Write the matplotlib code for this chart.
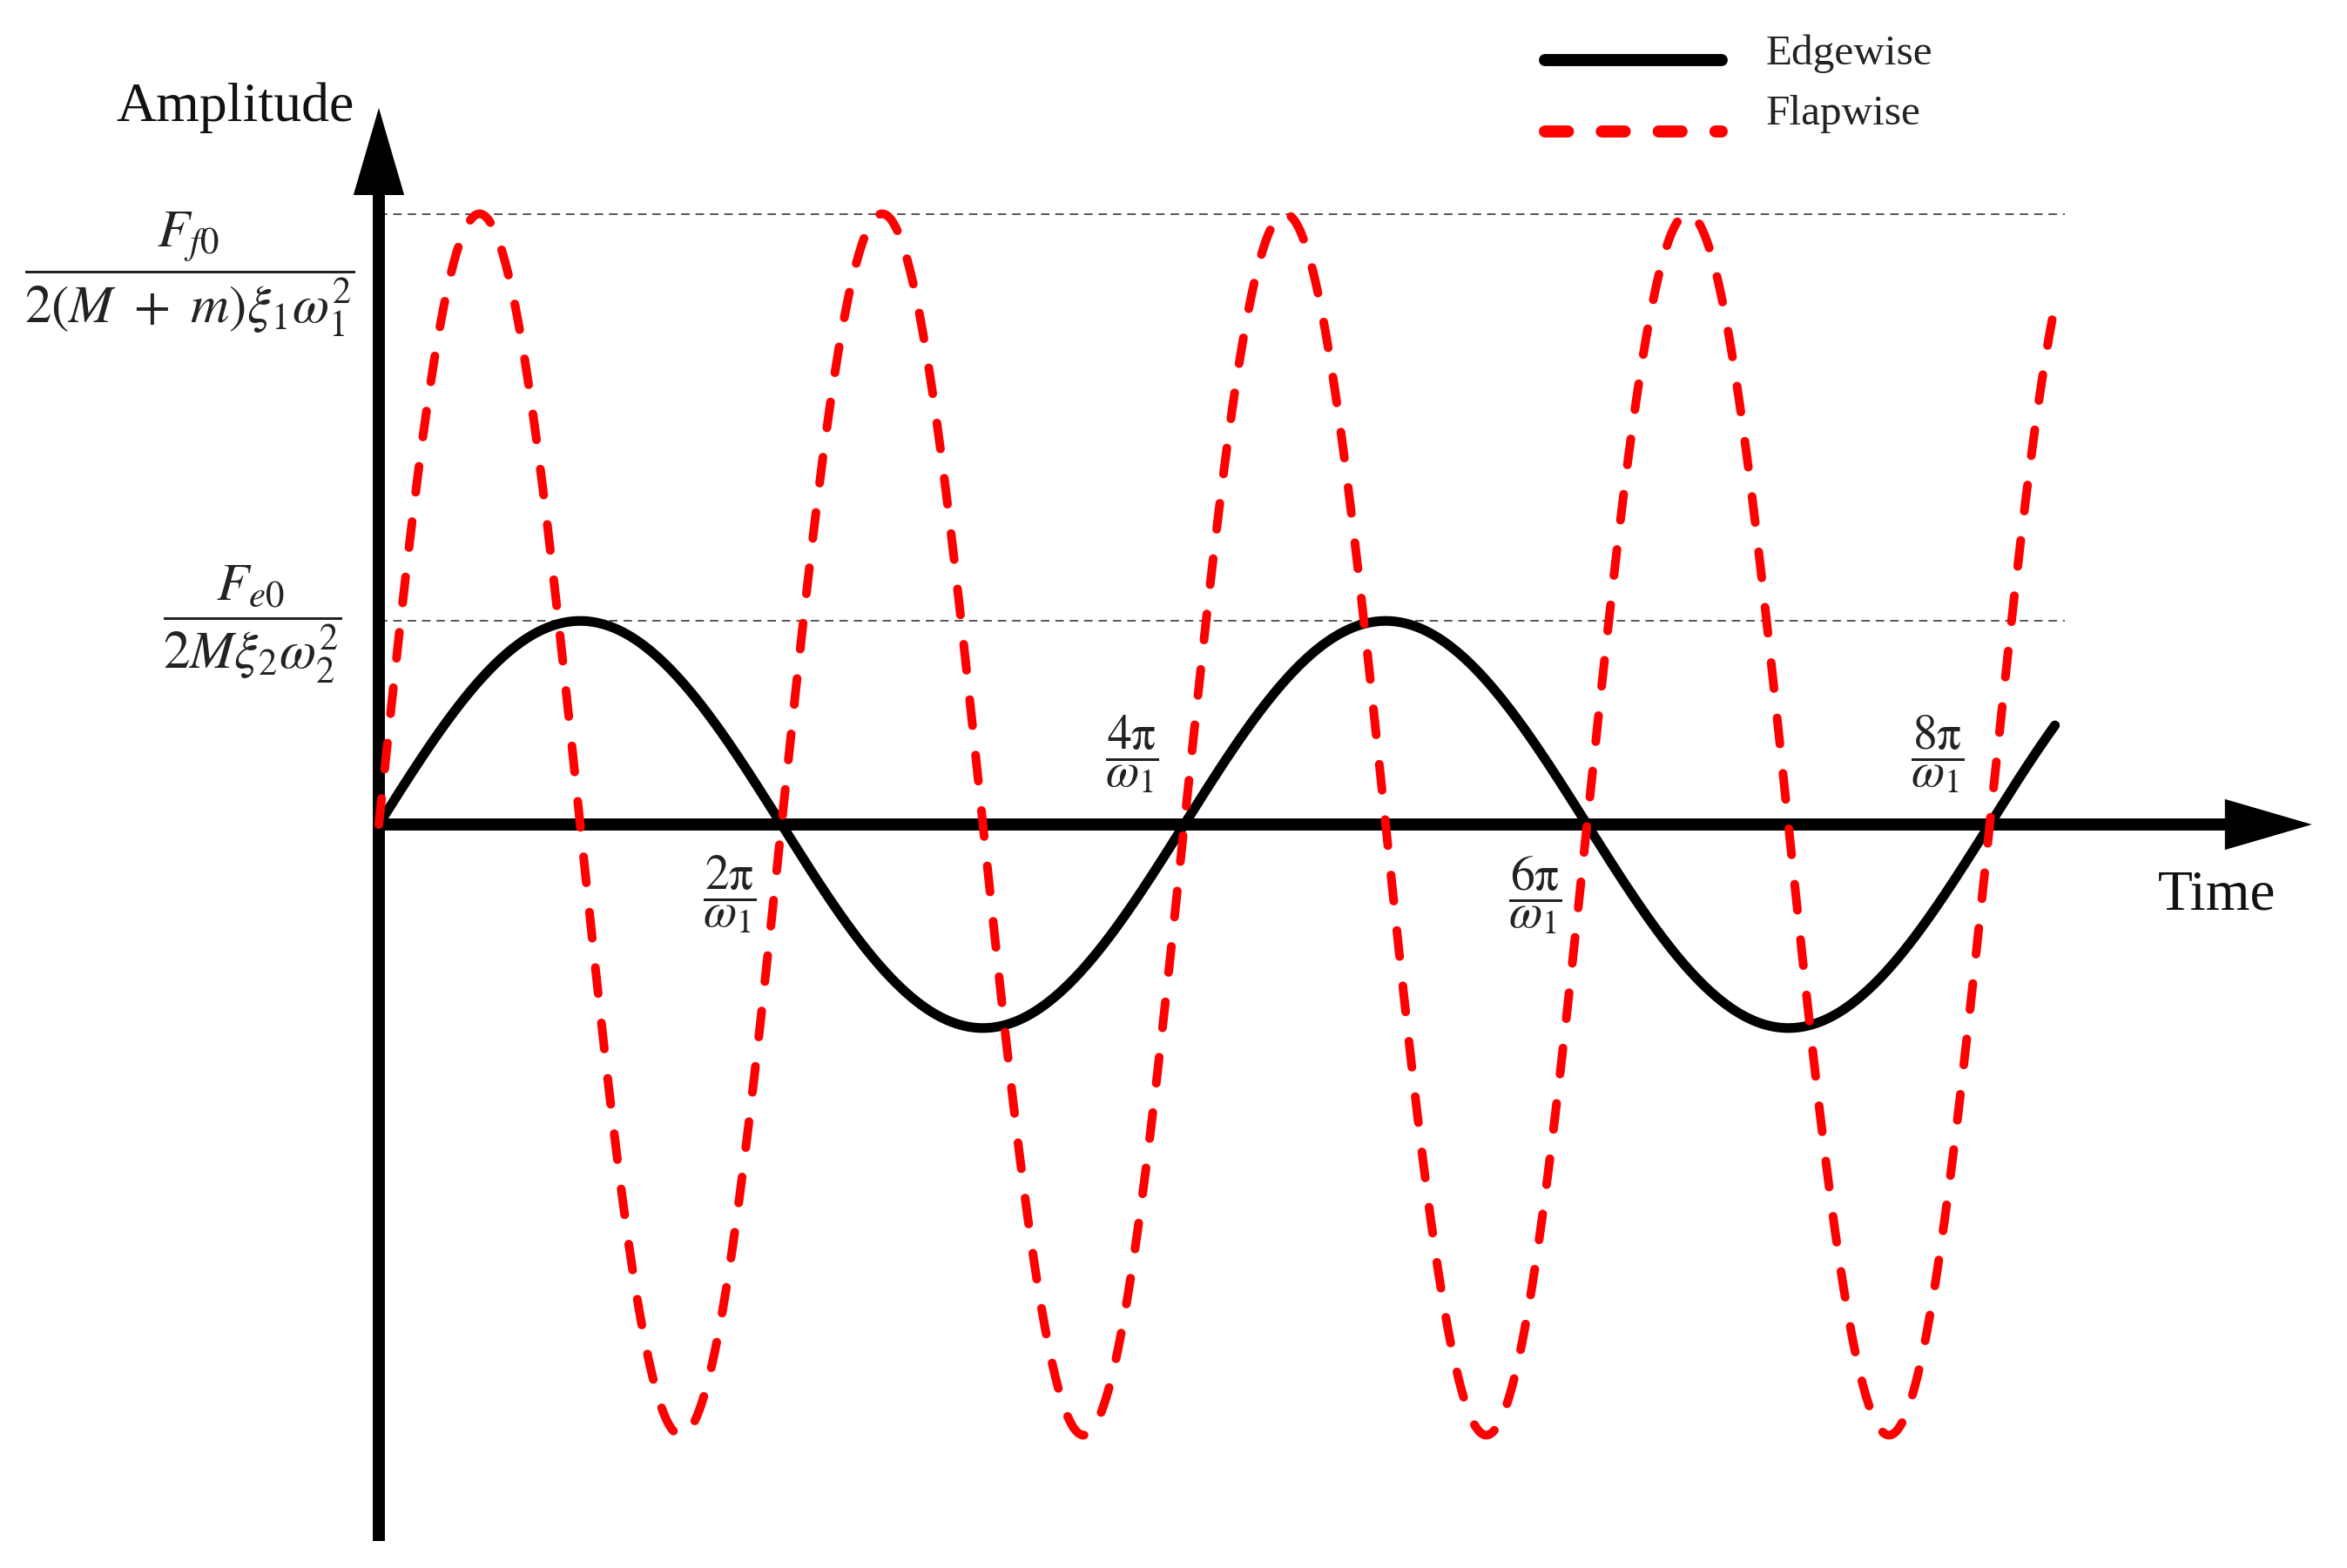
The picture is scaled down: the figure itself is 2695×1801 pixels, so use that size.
import numpy as np
import matplotlib
matplotlib.use("Agg")
import matplotlib.pyplot as plt
from matplotlib.lines import Line2D

plt.rcParams['font.family'] = ['Liberation Serif', 'DejaVu Serif']
plt.rcParams['mathtext.fontset'] = 'stix'

# ---- chart values (schematic, omega_1 = 1) ----
series_names = ["Edgewise", "Flapwise"]
edge_amplitude = 1.0          # F_e0 / (2 M xi2 w2^2)
flap_amplitude = 3.0          # F_f0 / (2(M+m) xi1 w1^2)
edge_freq = 0.5               # angular frequency relative to omega_1
flap_freq = 1.0
t_end = 26.15                 # end of drawn curves
tick_multiples = [2, 4, 6, 8]  # multiples of pi / omega_1
tick_labels = [r"$\dfrac{2\mathrm{\pi}}{\omega_1}$", r"$\dfrac{4\mathrm{\pi}}{\omega_1}$",
               r"$\dfrac{6\mathrm{\pi}}{\omega_1}$", r"$\dfrac{8\mathrm{\pi}}{\omega_1}$"]
tick_side = ["below", "above", "below", "above"]
amp_labels = [r"$\dfrac{F_{f0}}{2(M\ +\ m)\xi_1\omega_1^2}$", r"$\dfrac{F_{e0}}{2M\xi_2\omega_2^2}$"]

W, H = 2695, 1801
fig = plt.figure(figsize=(W / 100, H / 100), dpi=100)
ax = fig.add_axes([0, 0, 1, 1])
ax.axis('off')
# pixel mapping: origin at (435, 947); 73.6 px per unit t, 233.8 px per unit amplitude
px_t, px_y, x0, y0 = 73.6, 233.8, 435, 947
ax.set_xlim(-x0 / px_t, (W - x0) / px_t)
ax.set_ylim(-(H - y0) / px_y, y0 / px_y)

t = np.linspace(0, t_end, 2000)
edge = edge_amplitude * np.sin(edge_freq * t)
flap = flap_amplitude * np.sin(flap_freq * t)

# reference dashed lines
for a in (flap_amplitude, edge_amplitude):
    ax.plot([0, t_end + 0.15], [a, a], color='#555555', lw=1.4, dashes=(5, 3.5), zorder=1)

# axes arrows
axis_x_end = 30.16
axis_y_top = 3.52
axis_y_bot = -3.52
ax.plot([0, axis_x_end - 0.8], [0, 0], color='k', lw=10, solid_capstyle='butt', zorder=3)
ax.plot([0, 0], [axis_y_bot, axis_y_top - 0.25], color='k', lw=10, solid_capstyle='butt', zorder=3)
arrow_kw = dict(arrowstyle='-|>,head_length=0.72,head_width=0.21', lw=0, color='k',
                mutation_scale=100, shrinkA=0, shrinkB=0)
ax.annotate('', xy=(axis_x_end, 0), xytext=(axis_x_end - 2, 0), arrowprops=arrow_kw, zorder=4)
ax.annotate('', xy=(0, axis_y_top), xytext=(0, axis_y_top - 1), arrowprops=arrow_kw, zorder=4)

# curves
ax.plot(t, edge, color='k', lw=8, solid_capstyle='round', zorder=5, label=series_names[0])
ax.plot(t, flap, color='#ff0000', lw=7.2, dashes=(3.0, 3.4), dash_capstyle='round', zorder=6,
        label=series_names[1])

# tick labels
for m, lab, side in zip(tick_multiples, tick_labels, tick_side):
    dy = -58 if side == "below" else 58
    ax.annotate(lab, xy=(m * np.pi, 0), xytext=(-43, dy), textcoords='offset points',
                ha='center', va='center', fontsize=40, color='#222222')

# amplitude labels
ax.text(-0.38, 2.70, amp_labels[0], ha='right', va='center', fontsize=44, color='#222222')
ax.text(-0.58, 0.98, amp_labels[1], ha='right', va='center', fontsize=44, color='#222222')

ax.text(-0.39, 3.52, "Amplitude", ha='right', va='center', fontsize=46, color='#111111')
ax.text(28.68, -0.35, "Time", ha='center', va='center', fontsize=47, color='#111111')

# legend (manual)
fig.add_artist(Line2D([0.6583, 0.7336], [0.9617, 0.9617], color='k', lw=10,
                      solid_capstyle='round', transform=fig.transFigure))
fig.add_artist(Line2D([0.6583, 0.7336], [0.9162, 0.9162], color='#ff0000', lw=10,
                      dashes=(1.9, 2.8), dash_capstyle='round', transform=fig.transFigure))
fig.text(0.7525, 0.9656, series_names[0], ha='left', va='center', fontsize=35.5, color='#222222')
fig.text(0.7525, 0.9273, series_names[1], ha='left', va='center', fontsize=35.5, color='#222222')

fig.savefig("out.png", dpi=100, facecolor='white')
